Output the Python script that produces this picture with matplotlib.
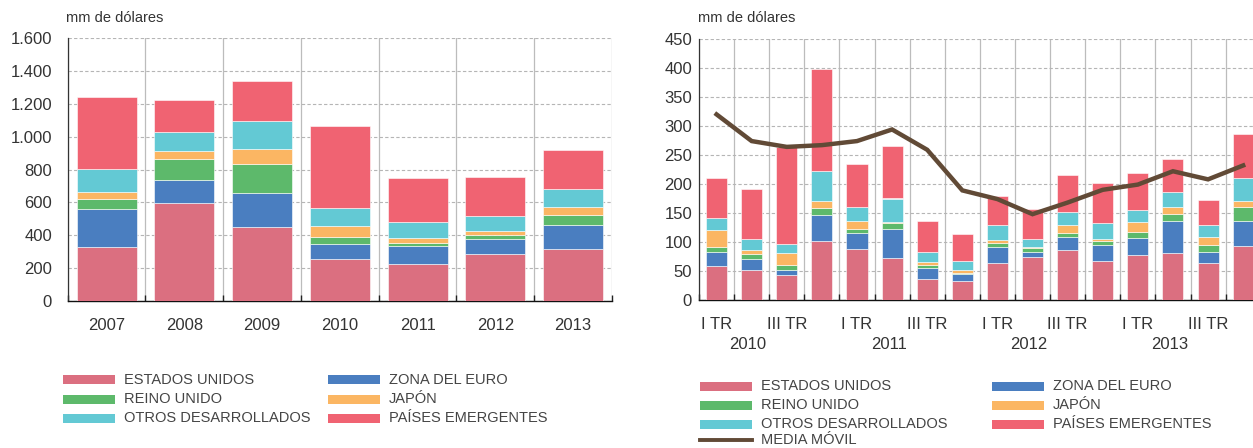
import numpy as np
import matplotlib
matplotlib.use("Agg")
import matplotlib.pyplot as plt
from matplotlib.patches import Rectangle
from matplotlib.lines import Line2D
from matplotlib.ticker import FuncFormatter

# Datos anuales (mm de dólares)
years = ["2007", "2008", "2009", "2010", "2011", "2012", "2013"]
anual_eeuu = [327, 597, 453, 254, 223, 288, 315]
anual_euro = [235, 142, 207, 95, 114, 92, 146]
anual_ru = [59, 124, 172, 41, 18, 22, 61]
anual_japon = [43, 53, 92, 65, 29, 24, 49]
anual_otros = [142, 111, 172, 109, 97, 92, 112]
anual_emerg = [437, 197, 244, 504, 268, 235, 239]

# Datos trimestrales 2010-2013 (mm de dólares)
quarter_labels = ["I TR", "", "III TR", ""] * 4
quarter_years = ["2010", "2011", "2012", "2013"]
trim_eeuu = [59, 52, 43, 102, 88, 72, 36, 32, 63, 74, 86, 67, 78, 81, 64, 93]
trim_euro = [23, 19, 9, 45, 27, 51, 20, 12, 29, 9, 23, 27, 29, 56, 18, 44]
trim_ru = [9, 8, 9, 12, 8, 9, 4, 3, 6, 6, 7, 7, 10, 12, 13, 24]
trim_japon = [29, 7, 20, 12, 13, 3, 6, 4, 6, 2, 13, 5, 17, 11, 13, 10]
trim_otros = [22, 20, 15, 51, 24, 40, 16, 16, 26, 15, 22, 27, 22, 26, 21, 40]
trim_emerg = [69, 85, 168, 176, 74, 91, 55, 46, 50, 51, 65, 68, 63, 57, 43, 76]
media_movil = [320, 274, 264, 267, 274, 294, 259, 189, 174, 148, 168, 190, 199, 222, 208, 232]

labels = ["ESTADOS UNIDOS", "ZONA DEL EURO", "REINO UNIDO", "JAPÓN",
          "OTROS DESARROLLADOS", "PAÍSES EMERGENTES"]
colors = ["#db6f80", "#4a7ec0", "#5db96b", "#fbb663", "#63c9d4", "#f06372"]
line_color = "#614a36"

W, H = 1253, 448
TEXT = "#333333"
plt.rcParams["font.family"] = ["Liberation Sans", "DejaVu Sans"]

fig = plt.figure(figsize=(W / 100, H / 100), dpi=100)


def px_axes(left, top, right, bottom):
    return fig.add_axes([left / W, 1 - bottom / H, (right - left) / W, (bottom - top) / H])


def stacked(ax, series, width):
    x = np.arange(len(series[0]))
    base = np.zeros(len(x))
    for vals, c in zip(series, colors):
        ax.bar(x, vals, width, bottom=base, color=c, edgecolor="#ffffff",
               linewidth=0.4, zorder=3)
        base += np.array(vals)
    return x


def style(ax, n, ymax, ystep, ypad):
    ax.set_ylim(0, ymax)
    ax.set_yticks(np.arange(0, ymax + 1, ystep))
    ax.yaxis.set_major_formatter(FuncFormatter(lambda v, p: f"{int(v):,}".replace(",", ".")))
    ax.yaxis.grid(True, color="#b5b5b5", linestyle=(0, (3, 2)), linewidth=0.8, zorder=0)
    ax.set_xticks(np.arange(n) - 0.5 + 0.5, minor=False)
    ax.set_xticks(np.arange(n + 1) - 0.5, minor=True)
    ax.xaxis.grid(True, which="minor", color="#bcbcbc", linestyle="-", linewidth=0.9, zorder=0)
    ax.tick_params(axis="y", length=0, pad=ypad, labelsize=12, colors=TEXT)
    ax.tick_params(axis="x", which="major", length=0, pad=12, labelsize=12, colors=TEXT)
    ax.tick_params(axis="x", which="minor", direction="in", length=4, width=1, color="#222222")
    for s in ("top", "right"):
        ax.spines[s].set_visible(False)
    ax.spines["left"].set_color("#333333")
    ax.spines["bottom"].set_color("#111111")
    ax.spines["left"].set_linewidth(0.9)
    ax.spines["bottom"].set_linewidth(1.0)
    ax.set_axisbelow(True)


# Panel izquierdo: totales anuales
ax1 = px_axes(67.7, 38.3, 612, 301)
stacked(ax1, [anual_eeuu, anual_euro, anual_ru, anual_japon, anual_otros, anual_emerg], 0.77)
style(ax1, len(years), 1600, 200, 11.3)
ax1.set_xlim(-0.5, len(years) - 0.5)
ax1.set_xticklabels(years)

# Panel derecho: datos trimestrales y media móvil
ax2 = px_axes(699, 39, W, 300)
x2 = stacked(ax2, [trim_eeuu, trim_euro, trim_ru, trim_japon, trim_otros, trim_emerg], 0.6)
ax2.plot(x2, media_movil, color=line_color, linewidth=3.2, zorder=4,
         solid_joinstyle="miter")
style(ax2, len(trim_eeuu), 450, 50, 5)
ax2.set_xlim(-0.5, 15.28)
ax2.set_xticklabels(quarter_labels)
for k, yr in enumerate(quarter_years):
    ax2.annotate(yr, xy=(4 * k + 0.9, 0), xycoords=("data", "axes fraction"),
                 xytext=(0, -26.6), textcoords="offset points", ha="center", va="top",
                 fontsize=12, color=TEXT)

for xpx in (66, 698):
    fig.text(xpx / W, 1 - 18 / H, "mm de dólares", fontsize=10.5, color=TEXT,
             ha="left", va="center")

# Leyendas
LEG_FONT = ["Liberation Sans Narrow", "Liberation Sans", "DejaVu Sans"]


def legend_item(x0, yc, text, color, kind="patch"):
    if kind == "patch":
        fig.add_artist(Rectangle((x0 / W, 1 - (yc + 4.5) / H), 52 / W, 9 / H,
                                 transform=fig.transFigure, facecolor=color, edgecolor="none"))
    else:
        fig.add_artist(Line2D([x0 / W, (x0 + 52) / W], [1 - yc / H] * 2,
                              transform=fig.transFigure, color=color, linewidth=2.8))
    fig.text((x0 + 61) / W, 1 - yc / H, text, fontsize=10.5, color="#444444",
             family=LEG_FONT, ha="left", va="center")


for i, (lab, c) in enumerate(zip(labels, colors)):
    row, col = divmod(i, 2)
    legend_item((63, 327.6)[col], (379.5, 399, 418)[row], lab, c)
    legend_item((700, 992)[col], (386, 405, 424)[row], lab, c)
legend_item(700, 440, "MEDIA MÓVIL", line_color, kind="line")

fig.savefig("out.png", dpi=100)
